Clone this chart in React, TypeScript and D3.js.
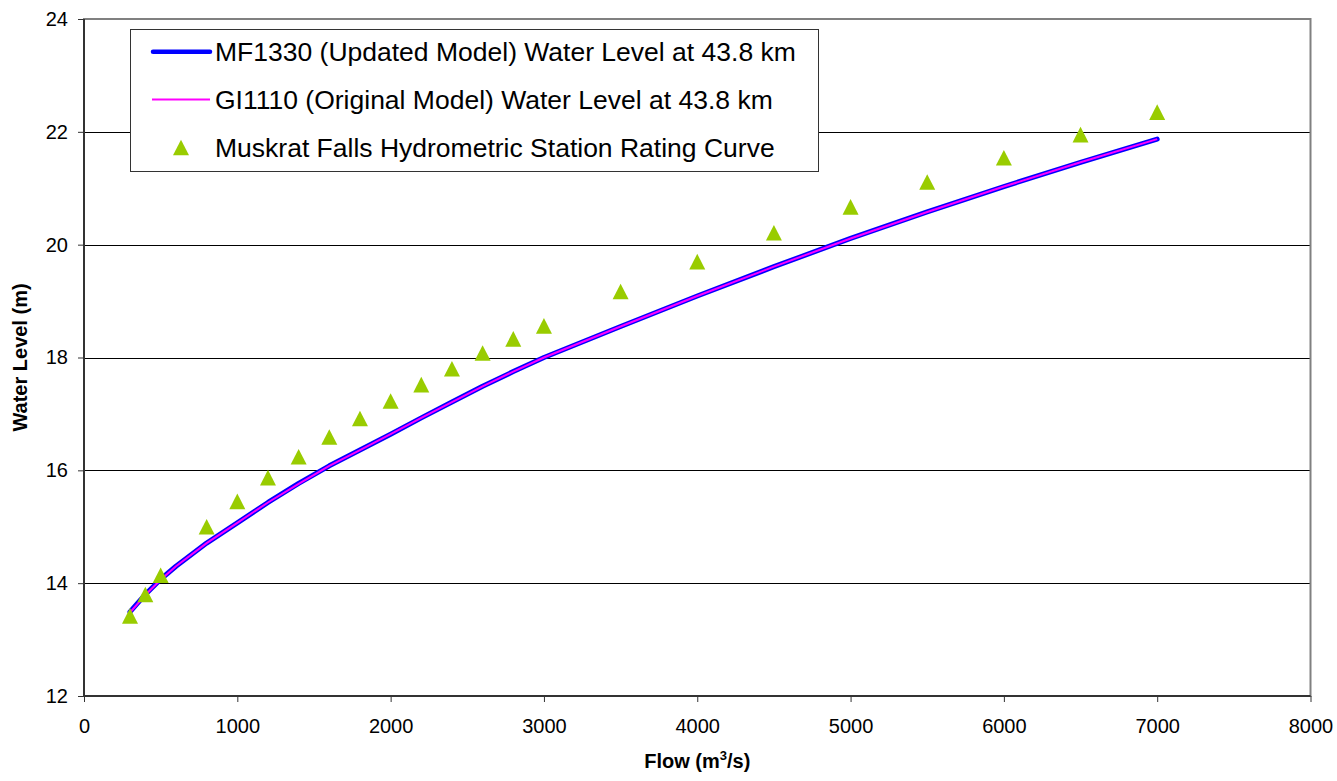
import React, { useEffect, useRef } from 'react';
import * as d3 from 'd3';

// model water levels at 43.8 km (flow in m3/s, level in m)
const modelFlow = [300, 400, 500, 600, 800, 1000, 1200, 1400, 1600, 1800, 2000, 2200, 2400, 2600, 2800, 3000, 3500, 4000, 4500, 5000, 5500, 6000, 6500, 7000];
const mf1330Level = [13.49, 13.8, 14.07, 14.3, 14.71, 15.07, 15.43, 15.77, 16.08, 16.36, 16.64, 16.93, 17.21, 17.49, 17.75, 18.0, 18.55, 19.09, 19.61, 20.11, 20.58, 21.03, 21.46, 21.87];
const gi1110Level = [13.48, 13.79, 14.06, 14.3, 14.71, 15.07, 15.43, 15.76, 16.08, 16.36, 16.64, 16.93, 17.21, 17.49, 17.75, 18.0, 18.55, 19.09, 19.61, 20.11, 20.58, 21.03, 21.46, 21.87];

// Muskrat Falls rating curve
const ratingFlow = [300, 400, 500, 800, 1000, 1200, 1400, 1600, 1800, 2000, 2200, 2400, 2600, 2800, 3000, 3500, 4000, 4500, 5000, 5500, 6000, 6500, 7000];
const ratingLevel = [13.42, 13.8, 14.14, 15.0, 15.45, 15.87, 16.24, 16.59, 16.92, 17.23, 17.52, 17.8, 18.08, 18.33, 18.56, 19.17, 19.7, 20.21, 20.67, 21.11, 21.54, 21.95, 22.35];

const xTicks = [0, 1000, 2000, 3000, 4000, 5000, 6000, 7000, 8000];
const yTicks = [12, 14, 16, 18, 20, 22, 24];

const legendLabels = [
  'MF1330 (Updated Model) Water Level at 43.8 km',
  'GI1110 (Original Model) Water Level at 43.8 km',
  'Muskrat Falls Hydrometric Station Rating Curve',
];

const FONT = '"Liberation Sans", Arial, sans-serif';
const TRI = 'M0,-7.8L8,7.8L-8,7.8Z';

const App = () => {
  const chartRef = useRef<SVGSVGElement>(null);

  useEffect(() => {
    const svg = d3.select(chartRef.current);
    svg.selectAll('*').remove();
    const width = 1337;
    const height = 781;
    const margin = { top: 19, right: 26.5, bottom: 85, left: 84 };

    const x = d3.scaleLinear().domain([0, 8000]).range([margin.left, width - margin.right]);
    const y = d3.scaleLinear().domain([12, 24]).range([height - margin.bottom, margin.top]);

    // gridlines
    svg.append('g')
      .selectAll('line')
      .data(yTicks.slice(1, -1))
      .join('line')
      .attr('x1', x(0))
      .attr('x2', x(8000))
      .attr('y1', d => Math.round(y(d)) + 0.5)
      .attr('y2', d => Math.round(y(d)) + 0.5)
      .attr('stroke', '#000')
      .attr('stroke-width', 1);

    // plot area border (top / right)
    svg.append('rect')
      .attr('x', x(0))
      .attr('y', y(24))
      .attr('width', x(8000) - x(0))
      .attr('height', y(12) - y(24))
      .attr('fill', 'none')
      .attr('stroke', '#808080')
      .attr('stroke-width', 2);

    // axes
    const xAxis = svg.append('g')
      .attr('transform', `translate(0,${y(12)})`)
      .call(d3.axisBottom(x).tickValues(xTicks).tickSize(6).tickPadding(17).tickFormat(d3.format('d')));
    const yAxis = svg.append('g')
      .attr('transform', `translate(${x(0)},0)`)
      .call(d3.axisLeft(y).tickValues(yTicks).tickSize(6).tickPadding(10).tickFormat(d3.format('d')));
    [xAxis, yAxis].forEach(a => {
      a.select('.domain').attr('stroke', '#333').attr('stroke-width', 2);
      a.selectAll('.tick line').attr('stroke', '#333').attr('stroke-width', 1);
      a.selectAll('.tick text').attr('font-family', FONT).attr('font-size', 20).attr('fill', '#000');
    });
    xAxis.select('.domain').attr('d', `M${x(0)},0H${x(8000)}`);
    yAxis.select('.domain').attr('d', `M0,${y(12)}V${y(24)}`);

    // lines
    const line = d3.line<number>()
      .x((_, i) => x(modelFlow[i]))
      .y(d => y(d));

    svg.append('path')
      .attr('d', line(mf1330Level))
      .attr('fill', 'none')
      .attr('stroke', '#0000ff')
      .attr('stroke-width', 5)
      .attr('stroke-linecap', 'round')
      .attr('stroke-linejoin', 'round');

    svg.append('path')
      .attr('d', line(gi1110Level))
      .attr('fill', 'none')
      .attr('stroke', '#ff00ff')
      .attr('stroke-width', 2);

    // rating curve markers
    svg.append('g')
      .selectAll('path')
      .data(ratingLevel)
      .join('path')
      .attr('d', TRI)
      .attr('transform', (d, i) => `translate(${x(ratingFlow[i])},${y(d)})`)
      .attr('fill', '#99cc00');

    // axis titles
    const flowTitle = svg.append('text')
      .attr('x', (x(0) + x(8000)) / 2)
      .attr('y', 768)
      .attr('text-anchor', 'middle')
      .attr('font-family', FONT)
      .attr('font-size', 20)
      .attr('font-weight', 'bold');
    flowTitle.append('tspan').text('Flow (m');
    flowTitle.append('tspan').attr('font-size', 13).attr('dy', -8).text('3');
    flowTitle.append('tspan').attr('dy', 8).text('/s)');

    svg.append('text')
      .attr('transform', `translate(27,${(y(12) + y(24)) / 2}) rotate(-90)`)
      .attr('text-anchor', 'middle')
      .attr('font-family', FONT)
      .attr('font-size', 20)
      .attr('font-weight', 'bold')
      .text('Water Level (m)');

    // legend
    const legend = svg.append('g').attr('transform', 'translate(130,29)');
    legend.append('rect')
      .attr('x', 0.5)
      .attr('y', 0.5)
      .attr('width', 688)
      .attr('height', 142)
      .attr('fill', '#fff')
      .attr('stroke', '#333')
      .attr('stroke-width', 1);

    const rowY = [22.7, 70.5, 118.5];
    legend.append('line')
      .attr('x1', 23).attr('x2', 80)
      .attr('y1', rowY[0]).attr('y2', rowY[0])
      .attr('stroke', '#0000ff').attr('stroke-width', 4.5).attr('stroke-linecap', 'round');
    legend.append('line')
      .attr('x1', 22).attr('x2', 80)
      .attr('y1', rowY[1]).attr('y2', rowY[1])
      .attr('stroke', '#ff00ff').attr('stroke-width', 2);
    legend.append('path')
      .attr('d', TRI)
      .attr('transform', `translate(51,${rowY[2]})`)
      .attr('fill', '#99cc00');

    legend.selectAll('text.label')
      .data(legendLabels)
      .join('text')
      .attr('class', 'label')
      .attr('x', 85)
      .attr('y', (_, i) => rowY[i] + 9.5)
      .attr('font-family', FONT)
      .attr('font-size', 26.5)
      .attr('fill', '#000')
      .text(d => d);
  }, []);

  return (
    <svg ref={chartRef} width={1337} height={781}
      style={{ position: 'absolute', left: 0, top: 0, background: '#fff' }}></svg>
  );
};

export default App;
